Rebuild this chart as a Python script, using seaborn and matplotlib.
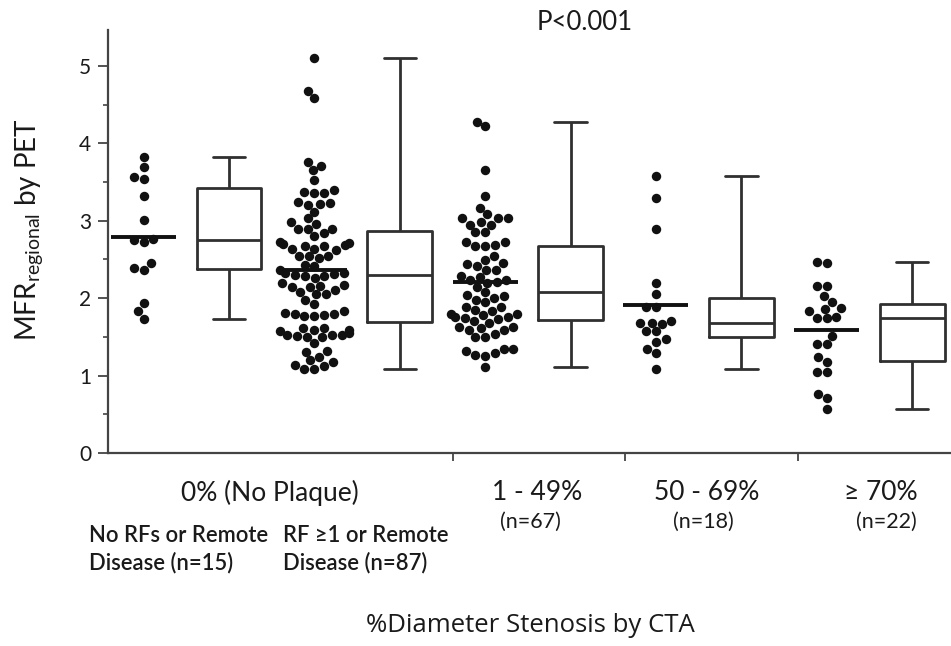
import numpy as np
import pandas as pd
import matplotlib
matplotlib.use("Agg")
import matplotlib.pyplot as plt
import seaborn as sns

# ---------------- data ----------------
columns = ["g1_dots", "g1_box", "g2_dots", "g2_box", "g3_dots",
           "g3_box", "g4_dots", "g4_box", "g5_dots", "g5_box"]

no_rf_0pct = [3.83, 3.70, 3.54, 3.56, 3.32, 3.01, 2.75, 2.73, 2.77,
              2.45, 2.37, 2.39, 1.94, 1.83, 1.73]

rf_0pct = [5.10, 4.68, 4.59, 3.76, 3.71, 3.65, 3.53,
           3.40, 3.36, 3.36, 3.37,
           3.24, 3.22, 3.23, 3.21,
           3.12, 3.03, 2.96, 2.98,
           2.90, 2.89, 2.89, 2.84, 2.80,
           2.73, 2.71, 2.67, 2.64, 2.67, 2.69, 2.70, 2.62, 2.63,
           2.54, 2.52, 2.55, 2.55, 2.43, 2.41,
           2.33, 2.32, 2.31, 2.30, 2.36,
           2.29, 2.26, 2.29,
           2.17, 2.15, 2.11, 2.19, 2.15, 2.16,
           2.08, 2.06, 2.05, 1.98, 1.93,
           1.83, 1.80, 1.77, 1.77, 1.78, 1.80, 1.81,
           1.61, 1.59, 1.57, 1.59, 1.62,
           1.53, 1.51, 1.52, 1.55, 1.50, 1.50, 1.52,
           1.42, 1.31, 1.32, 1.24,
           1.20, 1.17, 1.14, 1.09, 1.09, 1.12]

sten_1_49 = [4.28, 4.22, 3.65, 3.32, 3.17,
             3.03, 3.04, 2.99, 3.03, 3.09, 2.95, 2.95, 2.85, 2.85,
             2.72, 2.67, 2.67, 2.69, 2.72,
             2.54, 2.46, 2.41, 2.44, 2.49, 2.37, 2.37,
             2.24, 2.28, 2.29, 2.24, 2.21, 2.20, 2.15,
             2.08, 2.03, 1.98, 1.95, 2.00, 2.04, 1.89,
             1.88, 1.85, 1.80, 1.80, 1.83, 1.76, 1.74, 1.73, 1.68, 1.70,
             1.76, 1.78,
             1.63, 1.59, 1.61, 1.59, 1.63, 1.50, 1.50, 1.54,
             1.35, 1.32, 1.29, 1.25, 1.27, 1.34,
             1.11]

sten_50_69 = [3.58, 3.30, 2.90, 2.20, 2.05, 1.88, 1.88, 1.68, 1.70,
              1.67, 1.68, 1.58, 1.57, 1.47, 1.44, 1.35, 1.29, 1.09]

sten_70 = [2.47, 2.45, 2.16, 2.16, 2.03, 1.95, 1.83, 1.76, 1.86, 1.87,
           1.74, 1.75, 1.51, 1.41, 1.41, 1.18, 1.24, 1.05, 1.05, 0.76,
           0.71, 0.57]

groups = [no_rf_0pct, rf_0pct, sten_1_49, sten_50_69, sten_70]

y_ticks = [0, 1, 2, 3, 4, 5]
group_labels = ["0% (No Plaque)", "1 - 49%", "50 - 69%", "\u2265 70%"]
n_labels = ["(n=67)", "(n=18)", "(n=22)"]
sub_labels_a = ["No RFs or Remote", "Disease (n=15)"]
sub_labels_b = ["RF \u22651 or Remote", "Disease (n=87)"]
p_text = "P<0.001"
x_title = "%Diameter Stenosis by CTA"
y_title = r"MFR$_{\mathregular{regional}}$ by PET"

# ---------------- tidy tables ----------------
dot_rows, box_rows = [], []
for i, g in enumerate(groups):
    for v in g:
        dot_rows.append((columns[2 * i], v))
        box_rows.append((columns[2 * i + 1], v))
dots_df = pd.DataFrame(dot_rows, columns=["col", "value"])
box_df = pd.DataFrame(box_rows, columns=["col", "value"])

# ---------------- figure ----------------
sns.set_style("white")
plt.rcParams["font.family"] = ["Lato", "DejaVu Sans"]

W, H = 951, 646
fig = plt.figure(figsize=(W / 100, H / 100), dpi=100)
ax = fig.add_axes([108 / W, 1 - 453 / H, 1 - 108 / W, (453 - 30) / H])

sns.swarmplot(data=dots_df, x="col", y="value", order=columns,
              color="#111111", size=6.8, linewidth=0, ax=ax, zorder=3,
              warn_thresh=1.0)
sns.boxplot(data=box_df, x="col", y="value", order=columns,
            whis=(0, 100), width=0.76, fill=False, color="#303030",
            linewidth=2.0, showfliers=False, ax=ax)

# mean lines across the dot columns
for i, g in enumerate(groups):
    m = float(np.mean(g))
    ax.hlines(m, 2 * i - 0.38, 2 * i + 0.38, color="#111111", lw=2.8, zorder=4)

ax.set_xlim(-0.417, 9.456)
ax.set_ylim(0, 5.465)
ax.set_yticks(y_ticks)
ax.set_yticklabels([str(t) for t in y_ticks])
ax.set_yticks(np.arange(0.5, 5.0, 1.0), minor=True)
ax.set_xticks([3.624, 5.639, 7.659])
ax.set_xticklabels([])
ax.set_xlabel("")
ax.set_ylabel("")

for s in ["top", "right"]:
    ax.spines[s].set_visible(False)
for s in ["left", "bottom"]:
    ax.spines[s].set_color("#444444")
    ax.spines[s].set_linewidth(1.6)

ax.tick_params(axis="y", which="major", length=7, width=1.3, color="#444444",
               labelsize=15, labelcolor="#1a1a1a", pad=5, direction="out",
               left=True)
ax.tick_params(axis="y", which="minor", length=3.5, width=1.2, color="#444444",
               direction="out", left=True)
ax.tick_params(axis="x", which="major", length=6, width=1.3, color="#444444",
               direction="out", bottom=True)


def px(x, y):
    return x / W, 1 - y / H


tc = "#1a1a1a"
fig.text(*px(30, 230), y_title, rotation=90, ha="center", va="center",
         fontsize=20, color=tc)
fig.text(*px(585, 22), p_text, ha="center", va="center", fontsize=18.5,
         color=tc)
fig.text(*px(530, 625), x_title, ha="center", va="center", fontsize=18.5,
         color=tc, family=["Open Sans", "DejaVu Sans"])

centers = [(270, 493), (537, 492), (707, 492), (881, 492)]
for lab, (cx, cy) in zip(group_labels, centers):
    fig.text(*px(cx, cy), lab, ha="center", va="center", fontsize=19,
             color=tc)
n_centers = [(530, 522), (703, 522), (886, 522)]
for lab, (cx, cy) in zip(n_labels, n_centers):
    fig.text(*px(cx, cy), lab, ha="center", va="center", fontsize=15.5,
             color=tc)
for j, lab in enumerate(sub_labels_a):
    fig.text(*px(89, 535 + 28 * j), lab, ha="left", va="center",
             fontsize=15.8, color=tc, weight="semibold")
for j, lab in enumerate(sub_labels_b):
    fig.text(*px(283, 535 + 28 * j), lab, ha="left", va="center",
             fontsize=15.8, color=tc, weight="semibold")

fig.savefig("out.png", dpi=100)
